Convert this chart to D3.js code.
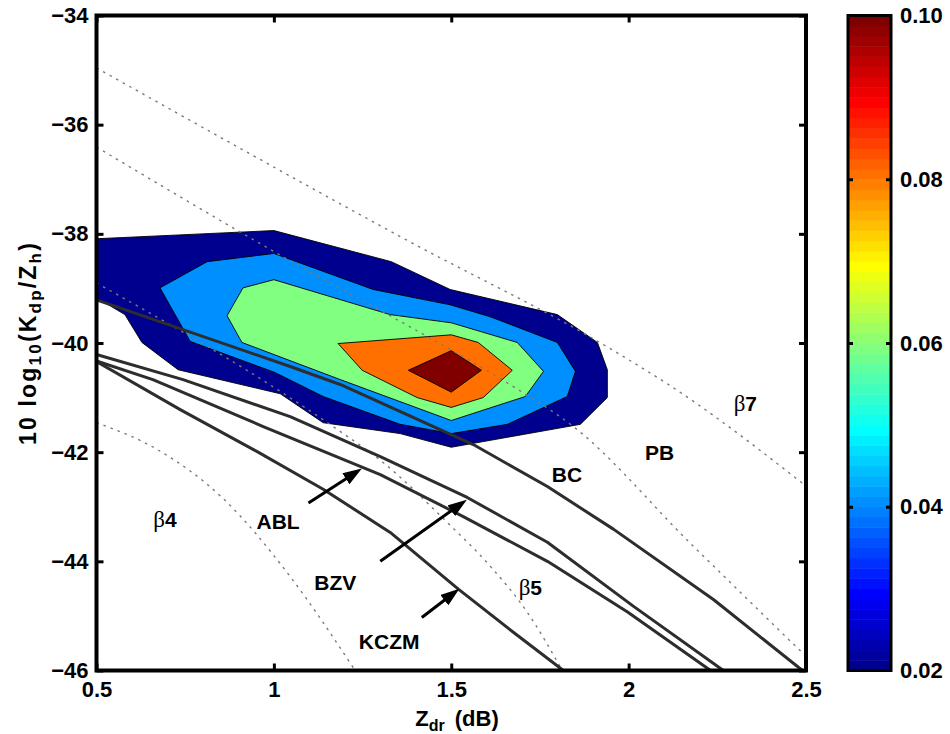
<!DOCTYPE html>
<html lang="en">
<head>
<meta charset="utf-8">
<title>Kdp/Zh vs Zdr</title>
<script src="https://d3js.org/d3.v7.min.js"></script>
<style>
  body { margin: 0; background: #fff; }
  text { font-family: "Liberation Sans", Arial, Helvetica, sans-serif; font-weight: bold; }
</style>
</head>
<body>
<script>
// axis ticks
var xTicks = [0.5, 1, 1.5, 2, 2.5];
var yTicks = [-46, -44, -42, -40, -38, -36, -34];
var cbTicks = [0.02, 0.04, 0.06, 0.08, 0.10];

// filled contour levels and their polygons (Zdr, 10log10(Kdp/Zh))
var levels = [0.02, 0.04, 0.06, 0.08, 0.10];
var level002 = [[0.5,-38.09],[1.0,-37.94],[1.331,-38.51],[1.497,-39.02],[1.799,-39.48],[1.912,-39.99],[1.94,-40.49],[1.94,-41.0],[1.864,-41.49],[1.5,-41.91],[1.356,-41.66],[1.139,-41.46],[1.018,-40.93],[0.73,-40.49],[0.628,-39.99],[0.58,-39.48],[0.5,-39.17]];
var level004 = [[0.679,-38.99],[0.812,-38.51],[1.0,-38.36],[1.28,-39.02],[1.497,-39.30],[1.61,-39.52],[1.799,-39.99],[1.85,-40.52],[1.827,-40.98],[1.658,-41.49],[1.5,-41.66],[1.356,-41.49],[1.139,-40.98],[1.003,-40.54],[0.764,-39.97]];
var level006 = [[0.913,-38.99],[1.0,-38.84],[1.328,-39.48],[1.5,-39.63],[1.686,-39.99],[1.76,-40.52],[1.709,-40.98],[1.5,-41.42],[1.187,-40.67],[0.91,-39.99],[0.868,-39.50]];
var level008 = [[1.181,-40.01],[1.5,-39.85],[1.576,-39.99],[1.672,-40.50],[1.59,-41.0],[1.5,-41.18],[1.404,-41.0],[1.249,-40.50]];
var level010 = [[1.5,-40.14],[1.585,-40.5],[1.5,-40.9],[1.379,-40.5]];

// relations
var bcLine   = [[0.5,-39.21],[1.046,-40.43],[1.187,-40.76],[1.562,-41.86],[1.771,-42.63],[1.957,-43.41],[2.239,-44.70],[2.49,-46.0]];
var bzvLine  = [[0.5,-40.21],[0.744,-40.67],[1.046,-41.35],[1.30,-42.08],[1.545,-42.83],[1.771,-43.65],[2.013,-44.82],[2.267,-46.0]];
var ablLine  = [[0.5,-40.33],[0.659,-40.67],[0.97,-41.53],[1.30,-42.41],[1.534,-43.18],[1.771,-44.0],[1.997,-44.93],[2.231,-46.0]];
var kczmLine = [[0.5,-40.34],[0.736,-41.22],[0.953,-41.99],[1.139,-42.68],[1.328,-43.47],[1.52,-44.51],[1.675,-45.30],[1.816,-46.0]];

// beta lines (dotted)
var betaA = [[0.5,-34.96],[1.356,-38.05],[1.968,-40.18],[2.126,-40.82],[2.5,-42.62]];
var betaB = [[0.5,-36.41],[1.026,-38.42],[1.497,-40.12],[1.675,-40.80],[1.844,-41.53],[2.174,-43.67],[2.5,-45.74]];
var betaC = [[0.5,-38.90],[1.009,-40.85],[1.178,-41.58],[1.308,-42.19],[1.489,-43.29],[1.61,-44.09],[1.714,-44.93],[1.813,-46.0]];
var betaD = [[0.5,-41.46],[0.671,-41.95],[0.857,-42.85],[1.046,-44.28],[1.229,-46.0]];

// arrows [tail, head]
var ablArrow  = [[1.0975,-42.93],[1.248,-42.30]];
var bzvArrow  = [[1.30,-44.0],[1.544,-42.87]];
var kczmArrow = [[1.417,-45.03],[1.523,-44.50]];

// text labels
var labelNames = ["ABL", "BZV", "KCZM", "BC", "PB"];
var labelPos = [[1.012,-43.27],[1.173,-44.38],[1.325,-45.46],[1.826,-42.41],[2.087,-42.0]];
var betaNames = ["4", "5", "7"];
var betaPos = [[0.693,-43.23],[1.723,-44.48],[2.329,-41.11]];

// MATLAB jet(m), k = 1..m
function jet(k, m) {
  var n = m / 4;
  function u(j) {
    if (j < 1 || j > 3 * n - 1) return 0;
    if (j <= n) return j / n;
    if (j < 2 * n) return 1;
    return (3 * n - j) / n;
  }
  var r = u(k - 1.5 * n), g = u(k - n / 2), b = u(k + n / 2);
  return d3.rgb(r * 255, g * 255, b * 255).toString();
}
var cmin = 0.02, cmax = 0.10, ncol = 64;
function levelColor(v) {
  var k = Math.min(ncol, Math.floor((v - cmin) / (cmax - cmin) * ncol) + 1);
  return jet(k, ncol);
}

var W = 950, H = 734;
var svg = d3.select("body").append("svg")
    .attr("width", W)
    .attr("height", H);

var x = d3.scaleLinear().domain([0.5, 2.5]).range([96.5, 806]);
var y = d3.scaleLinear().domain([-46, -34]).range([670.5, 15.5]);

var defs = svg.append("defs");
defs.append("clipPath").attr("id", "plotclip")
  .append("rect")
  .attr("x", x(0.5)).attr("y", y(-34))
  .attr("width", x(2.5) - x(0.5)).attr("height", y(-46) - y(-34));

defs.append("marker")
  .attr("id", "head")
  .attr("viewBox", "0 0 19 13")
  .attr("refX", 9).attr("refY", 6.5)
  .attr("markerWidth", 19).attr("markerHeight", 13)
  .attr("markerUnits", "userSpaceOnUse")
  .attr("orient", "auto")
  .append("path").attr("d", "M0,0L19,6.5L0,13Z").attr("fill", "#000");

var line = d3.line().x(function(d) { return x(d[0]); }).y(function(d) { return y(d[1]); });

var plot = svg.append("g").attr("clip-path", "url(#plotclip)");

// filled contours
var polys = [level002, level004, level006, level008, level010];
plot.selectAll("path.cf")
  .data(polys)
  .enter().append("path")
  .attr("class", "cf")
  .attr("d", function(d) { return line(d) + "Z"; })
  .attr("fill", function(d, i) { return levelColor(levels[i]); })
  .attr("stroke", "#000")
  .attr("stroke-width", 0.9);

// dotted beta lines
plot.selectAll("path.beta")
  .data([betaA, betaB, betaC, betaD])
  .enter().append("path")
  .attr("class", "beta")
  .attr("d", d3.line().x(function(d) { return x(d[0]); }).y(function(d) { return y(d[1]); }).curve(d3.curveMonotoneX))
  .attr("fill", "none")
  .attr("stroke", "#7a7a7a")
  .attr("stroke-width", 1.4)
  .attr("stroke-dasharray", "2.5,5");

// relation curves
plot.selectAll("path.rel")
  .data([bcLine, bzvLine, ablLine, kczmLine])
  .enter().append("path")
  .attr("class", "rel")
  .attr("d", line)
  .attr("fill", "none")
  .attr("stroke", "#2d2d2d")
  .attr("stroke-width", 3)
  .attr("stroke-linejoin", "round");

// arrows: shaft stops 10px short, head tip lands on the target point
plot.selectAll("path.arrow")
  .data([ablArrow, bzvArrow, kczmArrow])
  .enter().append("path")
  .attr("class", "arrow")
  .attr("d", function(d) {
    var x0 = x(d[0][0]), y0 = y(d[0][1]), x1 = x(d[1][0]), y1 = y(d[1][1]);
    var L = Math.hypot(x1 - x0, y1 - y0);
    var s = (L - 10) / L;
    return "M" + x0 + "," + y0 + "L" + (x0 + (x1 - x0) * s) + "," + (y0 + (y1 - y0) * s);
  })
  .attr("stroke", "#000")
  .attr("stroke-width", 3)
  .attr("marker-end", "url(#head)");

// labels
svg.selectAll("text.lab")
  .data(labelNames)
  .enter().append("text")
  .attr("class", "lab")
  .attr("x", function(d, i) { return x(labelPos[i][0]); })
  .attr("y", function(d, i) { return y(labelPos[i][1]); })
  .attr("dy", "0.36em")
  .attr("text-anchor", "middle")
  .style("font-size", "21px")
  .text(function(d) { return d; });

var bl = svg.selectAll("text.beta")
  .data(betaNames)
  .enter().append("text")
  .attr("class", "beta")
  .attr("x", function(d, i) { return x(betaPos[i][0]); })
  .attr("y", function(d, i) { return y(betaPos[i][1]); })
  .attr("dy", "0.36em")
  .attr("text-anchor", "middle")
  .style("font-size", "21px");
bl.append("tspan")
  .style("font-family", "'Liberation Serif', 'Times New Roman', serif")
  .style("font-weight", "normal")
  .style("font-size", "23px")
  .text("\u03b2");
bl.append("tspan").text(function(d) { return d; });

// axes (ticks inside, box)
var fmtX = function(d) { return d === 0.5 ? "0.5" : d === 1.5 ? "1.5" : d === 2.5 ? "2.5" : String(d); };
var fmtY = function(d) { return "\u2212" + Math.abs(d); };

function styleAxis(g) {
  g.select(".domain").remove();
  g.selectAll(".tick line").attr("stroke", "#000").attr("stroke-width", 3);
  g.selectAll(".tick text").attr("fill", "#000").style("font-size", "22px");
}

svg.append("g")
  .attr("transform", "translate(0," + y(-46) + ")")
  .call(d3.axisBottom(x).tickValues(xTicks).tickSize(-7).tickPadding(11).tickFormat(fmtX))
  .call(styleAxis);
svg.append("g")
  .attr("transform", "translate(0," + y(-34) + ")")
  .call(d3.axisTop(x).tickValues(xTicks).tickSize(-7).tickFormat(""))
  .call(styleAxis);
svg.append("g")
  .attr("transform", "translate(" + x(0.5) + ",0)")
  .call(d3.axisLeft(y).tickValues(yTicks).tickSize(-7).tickPadding(8).tickFormat(fmtY))
  .call(styleAxis);
svg.append("g")
  .attr("transform", "translate(" + x(2.5) + ",0)")
  .call(d3.axisRight(y).tickValues(yTicks).tickSize(-7).tickFormat(""))
  .call(styleAxis);

svg.append("rect")
  .attr("x", x(0.5)).attr("y", y(-34))
  .attr("width", x(2.5) - x(0.5)).attr("height", y(-46) - y(-34))
  .attr("fill", "none").attr("stroke", "#000").attr("stroke-width", 4);

// axis titles
var xt = svg.append("text")
  .attr("x", 457).attr("y", 726)
  .attr("text-anchor", "middle")
  .style("font-size", "22px");
xt.append("tspan").text("Z");
xt.append("tspan").attr("dy", 5).style("font-size", "16px").text("dr");
xt.append("tspan").attr("dy", -5).attr("dx", 10).text("(dB)");

var yt = svg.append("text")
  .attr("transform", "translate(36,343) rotate(-90)")
  .attr("text-anchor", "middle")
  .style("font-size", "23px")
  .style("letter-spacing", "2.2px");
yt.append("tspan").text("10 log");
yt.append("tspan").attr("dy", 5).style("font-size", "17px").text("10");
yt.append("tspan").attr("dy", -5).text("(K");
yt.append("tspan").attr("dy", 5).style("font-size", "17px").text("dp");
yt.append("tspan").attr("dy", -5).text("/Z");
yt.append("tspan").attr("dy", 5).style("font-size", "17px").text("h");
yt.append("tspan").attr("dy", -5).text(")");

// colorbar
var cbx0 = 848, cbx1 = 891;
var cy = d3.scaleLinear().domain([cmin, cmax]).range([y(-46), y(-34)]);
var bands = d3.range(1, ncol + 1);
svg.selectAll("rect.cb")
  .data(bands)
  .enter().append("rect")
  .attr("class", "cb")
  .attr("x", cbx0)
  .attr("width", cbx1 - cbx0)
  .attr("y", function(k) { return cy(cmin + k * (cmax - cmin) / ncol); })
  .attr("height", function(k) { return cy(cmin + (k - 1) * (cmax - cmin) / ncol) - cy(cmin + k * (cmax - cmin) / ncol) + 0.5; })
  .attr("fill", function(k) { return jet(k, ncol); });

svg.append("g")
  .attr("transform", "translate(" + cbx0 + ",0)")
  .call(d3.axisRight(cy).tickValues(cbTicks.slice(1, 4)).tickSize(5).tickFormat(""))
  .call(styleAxis);
svg.append("g")
  .attr("transform", "translate(" + cbx1 + ",0)")
  .call(d3.axisLeft(cy).tickValues(cbTicks.slice(1, 4)).tickSize(5).tickFormat(""))
  .call(styleAxis);
svg.append("g")
  .attr("transform", "translate(" + cbx1 + ",0)")
  .call(d3.axisRight(cy).tickValues(cbTicks).tickSize(0).tickPadding(9).tickFormat(d3.format(".2f")))
  .call(styleAxis);

svg.append("rect")
  .attr("x", cbx0).attr("y", cy(cmax))
  .attr("width", cbx1 - cbx0).attr("height", cy(cmin) - cy(cmax))
  .attr("fill", "none").attr("stroke", "#000").attr("stroke-width", 3);
</script>
</body>
</html>
